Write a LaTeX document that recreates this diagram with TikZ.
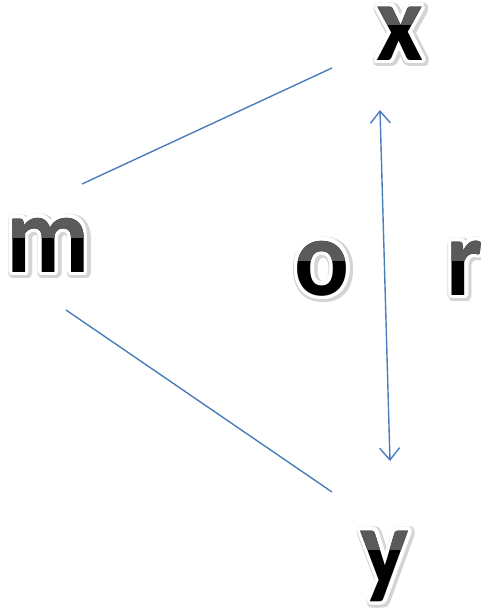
\documentclass[tikz,border=0pt]{standalone}
\usepackage{fontspec}
\setmainfont{Carlito}
\usetikzlibrary{positioning,calc,arrows.meta}
\definecolor{link}{HTML}{4A7EBB}
\definecolor{halo}{HTML}{B8B8B8}
\definecolor{topgray}{HTML}{5A5A5A}
\newcommand{\bigfont}{\fontsize{110}{110}\bfseries\selectfont}
% glowing word-art letter: name, position, letter
\newcommand{\fancyletter}[3]{%
  \foreach \a in {0,20,...,340} {
    \node[letter, text=halo!60] at ($(#2)+(1.5,1.5)+(\a:5.5)$) {\scalebox{0.93}[1]{#3}};
  }
  \foreach \a in {0,20,...,340} {
    \node[letter, text=white] at ($(#2)+(\a:3.5)$) {\scalebox{0.93}[1]{#3}};
  }
  \node[letter] (#1) at (#2) {\scalebox{0.93}[1]{#3}};
  \begin{scope}
    \clip ($(#2)+(-80,-90)$) rectangle ($(#2)+(80,-35)$);
    \node[letter, text=topgray] at (#2) {\scalebox{0.93}[1]{#3}};
  \end{scope}
}
\begin{document}
\begin{tikzpicture}[x=1pt,y=-1pt, line width=1.4pt,
  letter/.style={font=\bigfont, anchor=base, inner sep=0pt, text=black},
  link/.style={draw=link},
  >={Straight Barb[length=12pt,width=20pt]}]
\useasboundingbox (0,0) rectangle (480,610);
% ---- letters
\fancyletter{x}{400,60}{x}
\fancyletter{m}{48,272}{m}
\fancyletter{o}{322,295}{o}
\fancyletter{r}{465,295}{r}
\fancyletter{y}{385,584}{y}
% ---- connector ends
\coordinate (mx1) at (82,184);
\coordinate (mx2) at (332,68);
\coordinate (my1) at (66,310);
\coordinate (my2) at (332,492);
\coordinate (xy1) at (380,110);
\coordinate (xy2) at (390,461);
% ---- connectors
\draw[link] (mx1) -- (mx2);
\draw[link] (my1) -- (my2);
\draw[link, <->] (xy1) -- (xy2);
\end{tikzpicture}
\end{document}
